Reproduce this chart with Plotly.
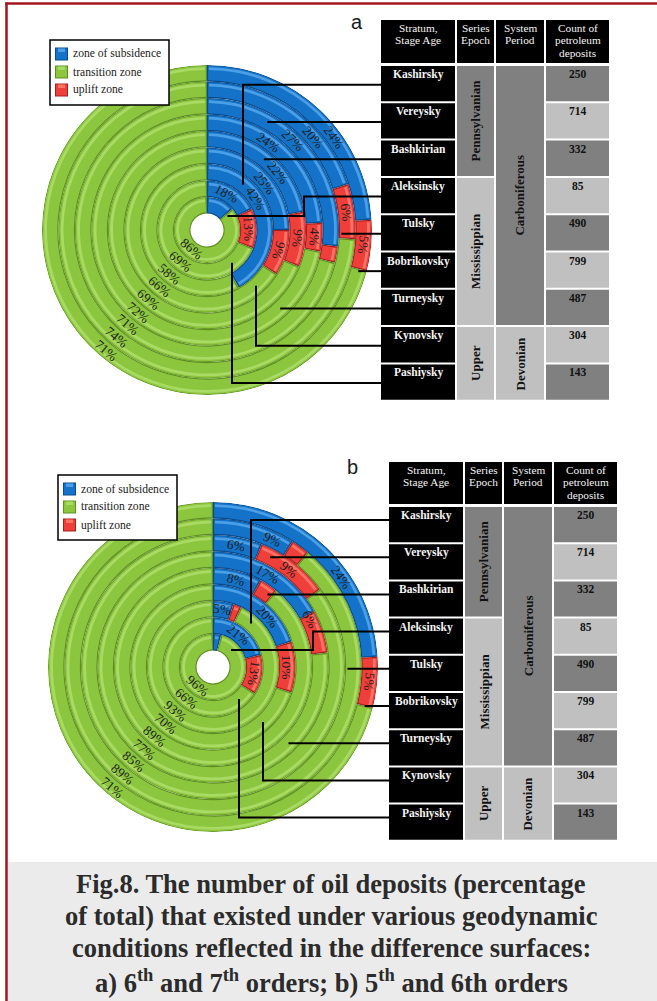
import math
import plotly.graph_objects as go

W, H = 657, 1001

# ---------------- data ----------------
strata = ["Kashirsky", "Vereysky", "Bashkirian", "Aleksinsky", "Tulsky",
          "Bobrikovsky", "Turneysky", "Kynovsky", "Pashiysky"]
epochs = ["Pennsylvanian"] * 3 + ["Mississippian"] * 4 + ["Upper"] * 2
periods = ["Carboniferous"] * 7 + ["Devonian"] * 2
deposit_counts = [250, 714, 332, 85, 490, 799, 487, 304, 143]

# ring of each stratum, counted from the centre (1 = innermost)
ring_of = [3, 7, 5, 1, 8, 9, 6, 4, 2]

# share of deposits (%) per stratum, panel a: 6th and 7th orders
subsidence_a = [42, 27, 22, 14, 20, 24, 24, 25, 18]
uplift_a = [0, 2, 9, 0, 6, 5, 4, 9, 13]
transition_a = [58, 71, 69, 86, 74, 71, 72, 66, 69]

# share of deposits (%) per stratum, panel b: 5th and 6th orders
subsidence_b = [5, 6, 8, 4, 9, 24, 17, 20, 21]
uplift_b = [2, 9, 3, 0, 2, 5, 6, 10, 13]
transition_b = [93, 85, 89, 96, 89, 71, 77, 70, 66]

zone_names = ["zone of subsidence", "transition zone", "uplift zone"]
table_headers = [["Stratum,", "Stage Age"], ["Series", "Epoch"], ["System", "Period"],
                 ["Count of", "petroleum", "deposits"]]
caption_lines = [
    "Fig.8. The number of oil deposits (percentage",
    "of total) that existed under various geodynamic",
    "conditions reflected in the difference surfaces:",
    "a) 6<sup>th</sup> and 7<sup>th</sup> orders; b) 5<sup>th</sup> and 6th orders",
]

# ---------------- styling ----------------
SERIF = "Liberation Serif"
SANS = "Liberation Sans"
ZONE = {
    "sub": dict(main="#1473c8", dark="#0b4a8c", light="#4a9fe6"),
    "tr": dict(main="#8cc63e", dark="#5e8f22", light="#a9da64"),
    "up": dict(main="#ef3f3a", dark="#a32020", light="#ff7266"),
}
CELL_DARK = "#808080"
CELL_LIGHT = "#c0c0c0"
GROUP_COLOR = {"Pennsylvanian": CELL_DARK, "Mississippian": CELL_LIGHT, "Upper": CELL_LIGHT,
               "Carboniferous": CELL_DARK, "Devonian": CELL_LIGHT}
COL_W = [74, 37, 48, 63]
COL_GAP = 2
HEADER_LINE = 12.6

# bevel layers of every ring segment: (inner offset, thickness, colour, angular inset px)
LAYERS = [(0.0, 1.0, "dark", 0.0), (0.07, 0.89, "main", 1.2), (0.70, 0.17, "light", 1.9)]

panels = [
    dict(letter="a", cx=207, cy=230, R=165,
         sub=subsidence_a, up=uplift_a, tr=transition_a,
         sub_angle={2: 28, 3: 57, 4: 51, 5: 51, 6: 35, 7: 44, 8: 49, 9: 54},
         up_angle={}, tr_angle=220,
         legend_box=(50, 40, 169, 105), legend_rows=(54, 72, 90), legend_x=55,
         letter_xy=(357, 22),
         table_x0=381, table_top=20, header_h=43, rows_top=66, row_h=37.3, line_off=0.5,
         leaders=[("down", 243), ("h",), ("h",), ("step", 304, 216), ("h",), ("h",),
                  ("h",), ("up", 256), ("up", 232)]),
    dict(letter="b", cx=213, cy=667, R=165,
         sub=subsidence_b, up=uplift_b, tr=transition_b,
         sub_angle={4: 47, 8: 25, 9: 55},
         up_angle={6: 64}, tr_angle=220,
         legend_box=(58, 475, 177, 540), legend_rows=(489, 507, 525), legend_x=63,
         letter_xy=(352, 467),
         table_x0=389, table_top=462, header_h=42, rows_top=507, row_h=37.2, line_off=0.35,
         leaders=[("down", 251), ("h",), ("h",), ("step", 313, 650), ("h",), ("h",),
                  ("h",), ("up", 263), ("up", 239)]),
]
leader_depth = {"Tulsky": 0.15}

fig = go.Figure()
shapes = []
annotations = []


def px(x):
    return x / W


def py(y):
    return 1 - y / H


def rect(x0, y0, x1, y1, fill, line_color=None, lw=0):
    shapes.append(dict(type="rect", xref="paper", yref="paper",
                       x0=px(x0), x1=px(x1), y0=py(y1), y1=py(y0),
                       fillcolor=fill, line=dict(width=lw, color=line_color or fill),
                       layer="above"))


def polyline(pts, color="black", width=2):
    d = "M " + " L ".join(f"{px(x):.5f} {py(y):.5f}" for x, y in pts)
    shapes.append(dict(type="path", xref="paper", yref="paper", path=d,
                       line=dict(color=color, width=width),
                       fillcolor="rgba(0,0,0,0)", layer="above"))


def text(x, y, s, size, color, bold=False, angle=0, xanchor="center",
         yanchor="middle", family=SERIF):
    annotations.append(dict(xref="paper", yref="paper", x=px(x), y=py(y),
                            text=f"<b>{s}</b>" if bold else s, showarrow=False,
                            font=dict(family=family, size=size, color=color),
                            textangle=angle, xanchor=xanchor, yanchor=yanchor,
                            borderpad=0))


layout_polars = {}
for pi, p in enumerate(panels):
    name = "polar" if pi == 0 else f"polar{pi + 1}"
    cx, cy, R = p["cx"], p["cy"], p["R"]
    u = R / 10.0
    layout_polars[name] = dict(
        domain=dict(x=[(cx - R) / W, (cx + R) / W], y=[1 - (cy + R) / H, 1 - (cy - R) / H]),
        bgcolor="rgba(0,0,0,0)",
        radialaxis=dict(range=[0, 10], visible=False),
        angularaxis=dict(rotation=90, direction="clockwise", visible=False),
    )
    n = len(strata)
    starts = {
        "sub": [0.0] * n,
        "up": [p["sub"][k] * 3.6 for k in range(n)],
        "tr": [(p["sub"][k] + p["up"][k]) * 3.6 for k in range(n)],
    }
    values = {"sub": p["sub"], "up": p["up"], "tr": p["tr"]}

    # ring segments
    for zk in ("sub", "up", "tr"):
        for off, thick, ckey, inset in LAYERS:
            th, wd, base = [], [], []
            for k in range(n):
                v = values[zk][k]
                if v <= 0:
                    continue
                ring = ring_of[k]
                w = v * 3.6
                rmid = (ring + off + thick / 2) * u
                dlt = 2 * inset / rmid * 180 / math.pi
                th.append(starts[zk][k] + w / 2)
                wd.append(max(w - dlt, 0.2))
                base.append(ring + off)
            fig.add_trace(go.Barpolar(
                theta=th, width=wd, r=[thick] * len(th), base=base,
                marker=dict(color=ZONE[zk][ckey], line=dict(width=0)),
                subplot=name, showlegend=False, hoverinfo="skip"))

    # percentage labels
    for zk in ("sub", "up", "tr"):
        for k in range(n):
            v = values[zk][k]
            ring = ring_of[k]
            if v < 4 or (zk == "sub" and ring == 1):
                continue
            if zk == "tr":
                ang = p["tr_angle"]
            else:
                ang = p[zk + "_angle"].get(ring, starts[zk][k] + v * 1.8)
            r = (ring + 0.5) * u
            a = math.radians(ang)
            x = cx + r * math.sin(a)
            y = cy - r * math.cos(a)
            rot = ang if ang <= 180 else ang - 180
            text(x, y, f"{v}%", 13.5, "#1e1e1e", angle=rot)

    # legend
    lx0, ly0, lx1, ly1 = p["legend_box"]
    rect(lx0, ly0, lx1, ly1, "white", "black", 1.5)
    for zk, label, yc in zip(("sub", "tr", "up"), zone_names, p["legend_rows"]):
        ix = p["legend_x"]
        rect(ix, yc - 6.5, ix + 13, yc + 6.5, ZONE[zk]["dark"])
        rect(ix + 1, yc - 5.5, ix + 12, yc + 5.5, ZONE[zk]["main"])
        rect(ix + 3, yc - 5.5, ix + 10, yc - 2, ZONE[zk]["light"])
        text(ix + 17, yc, label, 11.6, "#1a1a1a", xanchor="left")

    text(p["letter_xy"][0], p["letter_xy"][1], p["letter"], 20, "#1a1a1a", family=SANS)

    # table
    xs = []
    x = p["table_x0"]
    for w in COL_W:
        xs.append((x, x + w))
        x += w + COL_GAP
    top, hh = p["table_top"], p["header_h"]
    for (x0, x1), hlines in zip(xs, table_headers):
        rect(x0, top, x1, top + hh, "black")
        for li, hl in enumerate(hlines):
            text((x0 + x1) / 2, top + 7.5 + li * HEADER_LINE, hl, 11.3, "#f4f4f4")
    rt, rh = p["rows_top"], p["row_h"]
    for k in range(n):
        y0 = rt + k * rh
        y1 = y0 + rh - COL_GAP
        rect(xs[0][0], y0, xs[0][1], y1, "black")
        text((xs[0][0] + xs[0][1]) / 2, y0 + 1, strata[k], 11.5, "#f4f4f4",
             bold=True, yanchor="top")
        rect(xs[3][0], y0, xs[3][1], y1, CELL_DARK if k % 2 == 0 else CELL_LIGHT)
        text((xs[3][0] + xs[3][1]) / 2, y0 + 1, str(deposit_counts[k]), 11.5, "#111111",
             bold=True, yanchor="top")
    for col, groups in ((1, epochs), (2, periods)):
        k = 0
        while k < n:
            j = k
            while j + 1 < n and groups[j + 1] == groups[k]:
                j += 1
            y0 = rt + k * rh
            y1 = rt + (j + 1) * rh - COL_GAP
            rect(xs[col][0], y0, xs[col][1], y1, GROUP_COLOR[groups[k]])
            text((xs[col][0] + xs[col][1]) / 2, (y0 + y1) / 2, groups[k], 13, "#111111",
                 bold=True, angle=-90)
            k = j + 1

    # leader lines from the table to the rings
    tx = p["table_x0"]
    for k in range(n):
        yl = rt + (k + p["line_off"]) * rh
        r = (ring_of[k] + leader_depth.get(strata[k], 0.5)) * u
        route = p["leaders"][k]
        pts = [(tx, yl)]
        if route[0] == "h":
            pts.append((cx + math.sqrt(r * r - (yl - cy) ** 2), yl))
        elif route[0] in ("down", "up"):
            xe = route[1]
            dy = math.sqrt(r * r - (xe - cx) ** 2)
            pts += [(xe, yl), (xe, cy - dy if route[0] == "down" else cy + dy)]
        else:
            xe, y2 = route[1], route[2]
            pts += [(xe, yl), (xe, y2), (cx + math.sqrt(r * r - (y2 - cy) ** 2), y2)]
        polyline(pts)

# caption panel and frame
rect(8, 862, W, H, "#ebebeb")
for i, line in enumerate(caption_lines):
    text(331, 884 + i * 32.2, line, 26.5, "#2b2b2b", bold=True)
shapes.append(dict(type="line", xref="paper", yref="paper", x0=px(6.5), x1=px(6.5),
                   y0=py(2.5), y1=py(H), line=dict(color="#a3161d", width=2.5), layer="above"))
shapes.append(dict(type="line", xref="paper", yref="paper", x0=px(5.3), x1=px(W),
                   y0=py(3.5), y1=py(3.5), line=dict(color="#a3161d", width=2.5), layer="above"))

fig.update_layout(
    width=W, height=H, margin=dict(l=0, r=0, t=0, b=0),
    paper_bgcolor="white", plot_bgcolor="white",
    showlegend=False, shapes=shapes, annotations=annotations,
    **layout_polars,
)
fig.write_html("out.html")
